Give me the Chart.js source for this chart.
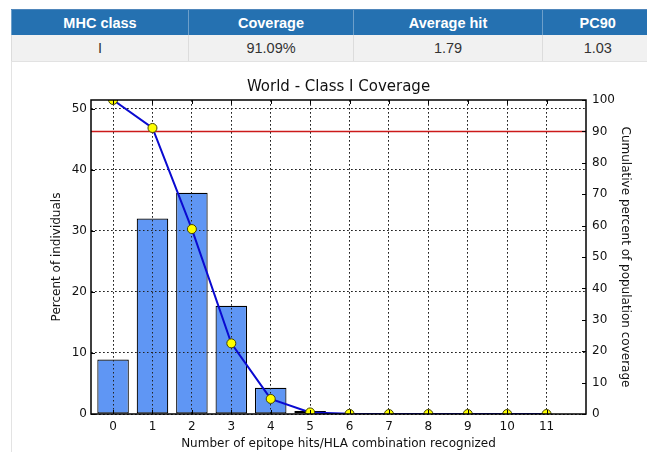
<!DOCTYPE html>
<html><head><meta charset="utf-8">
<script src="https://cdn.jsdelivr.net/npm/chart.js@4"></script>
<style>
html,body{margin:0;padding:0;background:#fff;width:647px;height:452px;overflow:hidden;position:relative;}
#tbl{position:absolute;left:11px;top:9px;border-collapse:collapse;font-family:"Liberation Sans",Arial,sans-serif;font-size:14.5px;table-layout:fixed;width:641px;}
#tbl th{background:#2571b1;color:#fff;font-weight:bold;height:25px;padding:0;text-align:center;border-left:1px solid #6d9fca;border-top:1px solid #4f86bb;}
#tbl td{background:#f1f1f1;color:#333;height:26px;padding:0;text-align:center;border-left:1px solid #dcdcdc;border-bottom:1px solid #e2e2e2;}
#vline{position:absolute;left:11px;top:61px;width:1px;height:391px;background:#e3e3e3;}
#wrap{position:absolute;left:0;top:62px;width:647px;height:390px;}
</style>
</head><body>
<table id="tbl"><colgroup><col style="width:177px"><col style="width:165px"><col style="width:189px"><col style="width:110px"></colgroup><thead><tr id="hdr"></tr></thead><tbody><tr id="row"></tr></tbody></table>
<div id="vline"></div>
<div id="wrap"><canvas id="c" width="647" height="390"></canvas></div>
<script>
const tableHeaders = ['MHC class', 'Coverage', 'Average hit', 'PC90'];
const tableValues = ['I', '91.09%', '1.79', '1.03'];

const categories = [0, 1, 2, 3, 4, 5, 6, 7, 8, 9, 10, 11];
const percentIndividuals = [8.91, 32.0, 36.2, 17.7, 4.3, 0.5, 0, 0, 0, 0, 0, 0];
const cumulativeCoverage = [100, 91.09, 58.9, 22.5, 4.8, 0.5, 0.05, 0, 0, 0, 0, 0];
const coverageThreshold = 90;
const leftTicks = [0, 10, 20, 30, 40, 50];
const rightTicks = [0, 10, 20, 30, 40, 50, 60, 70, 80, 90, 100];
const xMin = -0.56, xMax = 12;
const leftMax = 51.4, rightMax = 100;

document.getElementById('hdr').innerHTML = tableHeaders.map(h => '<th>' + h + '</th>').join('');
document.getElementById('row').innerHTML = tableValues.map(v => '<td>' + v + '</td>').join('');

Chart.defaults.font.family = 'DejaVu Sans';
Chart.defaults.color = '#111';

const tickFont = {family: 'DejaVu Sans', size: 12};
const titleFont = {family: 'DejaVu Sans', size: 12};

const framePlugin = {
  id: 'frame',
  afterDatasetDraw(chart, args) {
    if (args.meta.type === 'bar') {
      chart.scales.x.drawGrid(chart.chartArea);
      chart.scales.y.drawGrid(chart.chartArea);
    }
  },
  afterDraw(chart) {
    const {ctx, chartArea: a, scales} = chart;
    ctx.save();
    ctx.strokeStyle = '#000';
    ctx.lineWidth = 1;
    const L = 4;
    ctx.beginPath();
    scales.x.ticks.forEach(t => {
      const p = Math.round(scales.x.getPixelForValue(t.value)) + 0.5;
      ctx.moveTo(p, a.top); ctx.lineTo(p, a.top + L);
      ctx.moveTo(p, a.bottom); ctx.lineTo(p, a.bottom - L);
    });
    scales.y.ticks.forEach(t => {
      const p = Math.round(scales.y.getPixelForValue(t.value)) + 0.5;
      ctx.moveTo(a.left, p); ctx.lineTo(a.left + L, p);
    });
    scales.y2.ticks.forEach(t => {
      const p = Math.round(scales.y2.getPixelForValue(t.value)) + 0.5;
      ctx.moveTo(a.right, p); ctx.lineTo(a.right - L, p);
    });
    ctx.stroke();
    ctx.lineWidth = 1.5;
    ctx.strokeRect(a.left, a.top, a.right - a.left, a.bottom - a.top);
    ctx.restore();
  }
};

new Chart(document.getElementById('c'), {
  type: 'bar',
  data: {
    datasets: [
      {
        type: 'bar',
        label: 'Percent of individuals',
        data: categories.map((c, i) => ({x: c, y: percentIndividuals[i]})),
        yAxisID: 'y',
        backgroundColor: '#5f96f4',
        borderColor: '#000',
        borderWidth: 1.2,
        borderSkipped: false,
        barPercentage: 0.8,
        categoryPercentage: 1.0,
        order: 3,
        clip: 0
      },
      {
        type: 'line',
        label: 'Threshold',
        data: [{x: xMin, y: coverageThreshold}, {x: xMax, y: coverageThreshold}],
        yAxisID: 'y2',
        borderColor: '#cc1a1a',
        borderWidth: 1.5,
        pointRadius: 0,
        order: 2,
        clip: 0
      },
      {
        type: 'line',
        label: 'Cumulative',
        data: categories.map((c, i) => ({x: c, y: cumulativeCoverage[i]})),
        yAxisID: 'y2',
        borderColor: '#0a0ad0',
        borderWidth: 2,
        tension: 0,
        pointRadius: 4.5,
        pointBackgroundColor: '#ffff00',
        pointBorderColor: '#444400',
        pointBorderWidth: 1,
        order: 1,
        clip: 0
      }
    ]
  },
  options: {
    responsive: false,
    animation: false,
    devicePixelRatio: 1,
    layout: {padding: 0},
    plugins: {
      legend: {display: false},
      tooltip: {enabled: false},
      title: {
        display: true,
        text: 'World - Class I Coverage',
        fullSize: false,
        color: '#111',
        font: {family: 'DejaVu Sans', size: 15, weight: 'normal'},
        padding: {top: 16, bottom: 4}
      }
    },
    scales: {
      x: {
        type: 'linear',
        offset: false,
        min: xMin,
        max: xMax,
        afterBuildTicks: s => { s.ticks = categories.map(v => ({value: v})); },
        afterFit: s => { s.height = 38; },
        grid: {display: true, offset: false, color: '#222', lineWidth: 1, drawTicks: false},
        border: {display: false, dash: [1.5, 2.5]},
        ticks: {font: tickFont, color: '#111', padding: 6, autoSkip: false, maxRotation: 0, callback: v => String(v)},
        title: {display: true, text: 'Number of epitope hits/HLA combination recognized', font: titleFont, color: '#111', padding: {top: 0, bottom: 1}}
      },
      y: {
        position: 'left',
        min: 0,
        max: leftMax,
        afterBuildTicks: s => { s.ticks = leftTicks.map(v => ({value: v})); },
        afterFit: s => { s.width = 91; },
        grid: {display: true, color: '#222', lineWidth: 1, drawTicks: false},
        border: {display: false, dash: [1.5, 2.5]},
        ticks: {font: tickFont, color: '#111', padding: 4, callback: v => String(v)},
        title: {display: true, text: 'Percent of individuals', font: titleFont, color: '#111', padding: {top: 50, bottom: 0}}
      },
      y2: {
        position: 'right',
        min: 0,
        max: rightMax,
        afterBuildTicks: s => { s.ticks = rightTicks.map(v => ({value: v})); },
        afterFit: s => { s.width = 61; },
        grid: {display: false, drawTicks: false},
        border: {display: false},
        ticks: {font: tickFont, color: '#111', padding: 6, callback: v => String(v)},
        title: {display: true, text: 'Cumulative percent of population coverage', font: titleFont, color: '#111', padding: {top: 15, bottom: 0}}
      }
    }
  },
  plugins: [framePlugin]
});
</script>
</body></html>
